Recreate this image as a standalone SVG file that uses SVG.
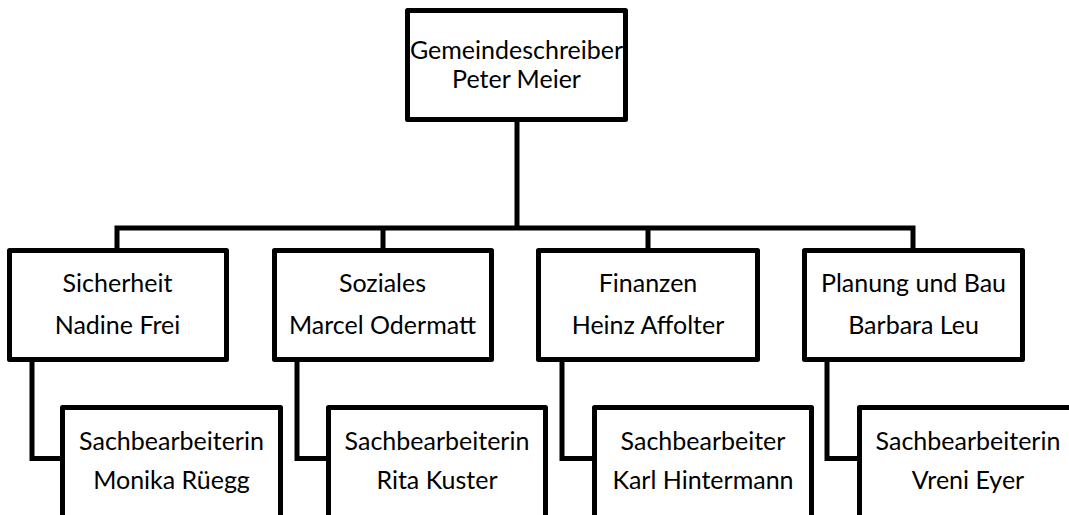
<svg xmlns="http://www.w3.org/2000/svg" width="1069" height="515" viewBox="0 0 1069 515">
<style>
.box{fill:#fff;stroke:#000;stroke-width:5;stroke-linejoin:round}
.c{fill:none;stroke:#000;stroke-width:5;stroke-linejoin:miter}
text{font-family:Lato,"Open Sans",sans-serif;font-size:25px;fill:#000;text-anchor:middle}
</style>
<rect width="1069" height="515" fill="#fff"/>
<g id="connectors">
<path class="c" d="M517 122 V228"/>
<path class="c" d="M117 250 V228 H913 V250"/>
<path class="c" d="M383 228 V250"/>
<path class="c" d="M648 228 V250"/>
<path class="c" d="M32 362 V458.5 H60"/>
<path class="c" d="M297 362 V458.5 H326"/>
<path class="c" d="M562 362 V458.5 H592"/>
<path class="c" d="M827 362 V458.5 H857"/>
</g>
<g id="n0"><rect class="box" x="407.5" y="10.5" width="218" height="109"/><text x="516.5" y="59">Gemeindeschreiber</text><text x="516.5" y="87.5">Peter Meier</text></g>
<g id="n1"><rect class="box" x="9.5" y="250.5" width="217" height="109"/><text x="117.5" y="292">Sicherheit</text><text x="117.5" y="334">Nadine Frei</text></g>
<g id="n2"><rect class="box" x="274.5" y="250.5" width="217" height="109"/><text x="382.5" y="292">Soziales</text><text x="382.5" y="334">Marcel Odermatt</text></g>
<g id="n3"><rect class="box" x="538.5" y="250.5" width="219" height="109"/><text x="648" y="292">Finanzen</text><text x="648" y="334">Heinz Affolter</text></g>
<g id="n4"><rect class="box" x="804.5" y="250.5" width="218" height="109"/><text x="913.5" y="292">Planung und Bau</text><text x="913.5" y="334">Barbara Leu</text></g>
<g id="n5"><rect class="box" x="62.5" y="407.5" width="218" height="130"/><text x="171.5" y="450">Sachbearbeiterin</text><text x="171.5" y="489">Monika Rüegg</text></g>
<g id="n6"><rect class="box" x="328.5" y="407.5" width="217" height="130"/><text x="437" y="450">Sachbearbeiterin</text><text x="437" y="489">Rita Kuster</text></g>
<g id="n7"><rect class="box" x="594.5" y="407.5" width="217" height="130"/><text x="703" y="450">Sachbearbeiter</text><text x="703" y="489">Karl Hintermann</text></g>
<g id="n8"><rect class="box" x="859.5" y="407.5" width="218" height="130"/><text x="968" y="450">Sachbearbeiterin</text><text x="968" y="489">Vreni Eyer</text></g>
</svg>
